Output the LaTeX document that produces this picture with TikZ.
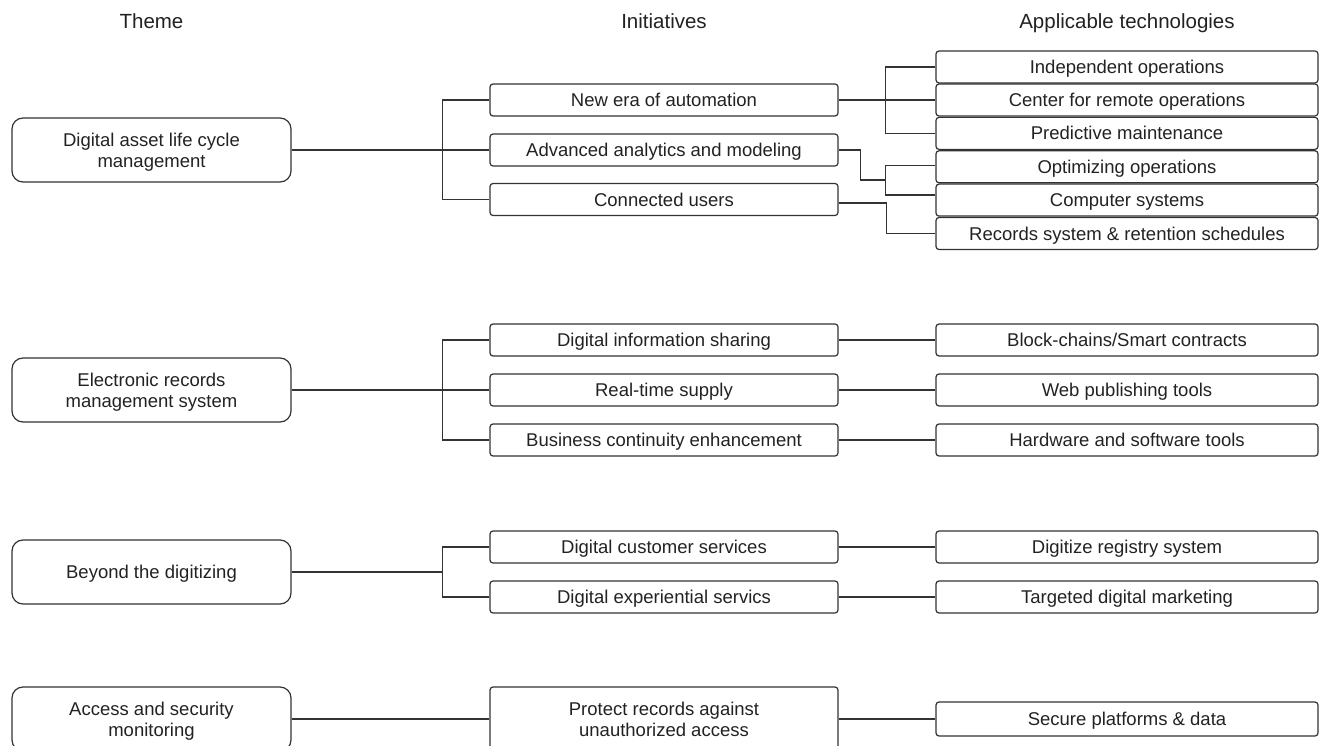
\documentclass[tikz,border=0pt]{standalone}
\usepackage{fontspec}
\setmainfont{Liberation Sans}
\definecolor{ink}{HTML}{222222}
\definecolor{edge}{HTML}{333333}
\begin{document}
\begin{tikzpicture}[x=1pt,y=-1pt,
  every node/.style={text=ink, inner sep=0pt, align=center, font=\fontsize{18.5}{21}\selectfont},
  boxtext/.style={text height=16.6pt, text depth=3.5pt},
  twoline/.style={text height=37.6pt, text depth=3.5pt},
  header/.style={anchor=base, font=\fontsize{20.5}{24}\selectfont},
  themebox/.style={boxtext, draw=edge, line width=1.2pt, rounded corners=11pt, minimum width=279pt, minimum height=64pt},
  initbox/.style={boxtext, draw=edge, line width=1.2pt, rounded corners=3pt, minimum width=348pt, minimum height=32pt},
  techbox/.style={boxtext, draw=edge, line width=1.2pt, rounded corners=3pt, minimum width=382pt, minimum height=32pt},
  link/.style={draw=edge, line width=1.2pt}
]
\useasboundingbox (0,0) rectangle (1320,746);
\clip (0,0) rectangle (1320,746);

% headers
\node[header] (h1) at (151.5,28.5) {Theme};
\node[header] (h2) at (664,28.5) {Initiatives};
\node[header] (h3) at (1127,28.5) {Applicable technologies};

% themes
\node[themebox, twoline] (t1) at (151.5,150) {Digital asset life cycle\\management};
\node[themebox, twoline] (t2) at (151.5,390) {Electronic records\\management system};
\node[themebox] (t3) at (151.5,572) {Beyond the digitizing};
\node[themebox, twoline] (t4) at (151.5,719) {Access and security\\monitoring};

% initiatives
\node[initbox] (i1) at (664,100) {New era of automation};
\node[initbox] (i2) at (664,150) {Advanced analytics and modeling};
\node[initbox] (i3) at (664,199.5) {Connected users};
\node[initbox] (i4) at (664,340) {Digital information sharing};
\node[initbox] (i5) at (664,390) {Real-time supply};
\node[initbox] (i6) at (664,440) {Business continuity enhancement};
\node[initbox] (i7) at (664,547) {Digital customer services};
\node[initbox] (i8) at (664,597) {Digital experiential servics};
\node[initbox, twoline, minimum height=64pt] (i9) at (664,719) {Protect records against\\unauthorized access};

% technologies
\node[techbox] (a1) at (1127,67) {Independent operations};
\node[techbox] (a2) at (1127,100) {Center for remote operations};
\node[techbox] (a3) at (1127,133.4) {Predictive maintenance};
\node[techbox] (a4) at (1127,166.8) {Optimizing operations};
\node[techbox] (a5) at (1127,200.1) {Computer systems};
\node[techbox] (a6) at (1127,233.5) {Records system \& retention schedules};
\node[techbox] (b1) at (1127,340) {Block-chains/Smart contracts};
\node[techbox] (b2) at (1127,390) {Web publishing tools};
\node[techbox] (b3) at (1127,440) {Hardware and software tools};
\node[techbox] (c1) at (1127,547) {Digitize registry system};
\node[techbox] (c2) at (1127,597) {Targeted digital marketing};
\node[techbox, minimum height=34pt] (d1) at (1127,719) {Secure platforms \& data};

% section 1
\draw[link] (t1.east) -- (i2.west);
\draw[link] (i1.west) -- ++(-47,0) |- (i3.west);
\draw[link] (i1.east) -- (a2.west);
\draw[link] (a1.west) -- ++(-50,0) |- (a3.west);
\coordinate (j2) at (886,180);
\draw[link] (i2.east) -- ++(22,0) |- (j2);
\draw[link] ([yshift=1pt]a4.west) -- ++(-50,0) |- ([yshift=5pt]a5.west);
\draw[link] ([yshift=-3.5pt]i3.east) -- ++(48,0) |- (a6.west);

% section 2
\draw[link] (t2.east) -- (i5.west);
\draw[link] (i4.west) -- ++(-47,0) |- (i6.west);
\draw[link] (i4.east) -- (b1.west);
\draw[link] (i5.east) -- (b2.west);
\draw[link] (i6.east) -- (b3.west);

% section 3
\coordinate (k3) at (443,572);
\draw[link] (t3.east) -- (k3);
\draw[link] (i7.west) -- ++(-47,0) |- (i8.west);
\draw[link] (i7.east) -- (c1.west);
\draw[link] (i8.east) -- (c2.west);

% section 4
\draw[link] (t4.east) -- (i9.west);
\draw[link] (i9.east) -- (d1.west);
\end{tikzpicture}
\end{document}
